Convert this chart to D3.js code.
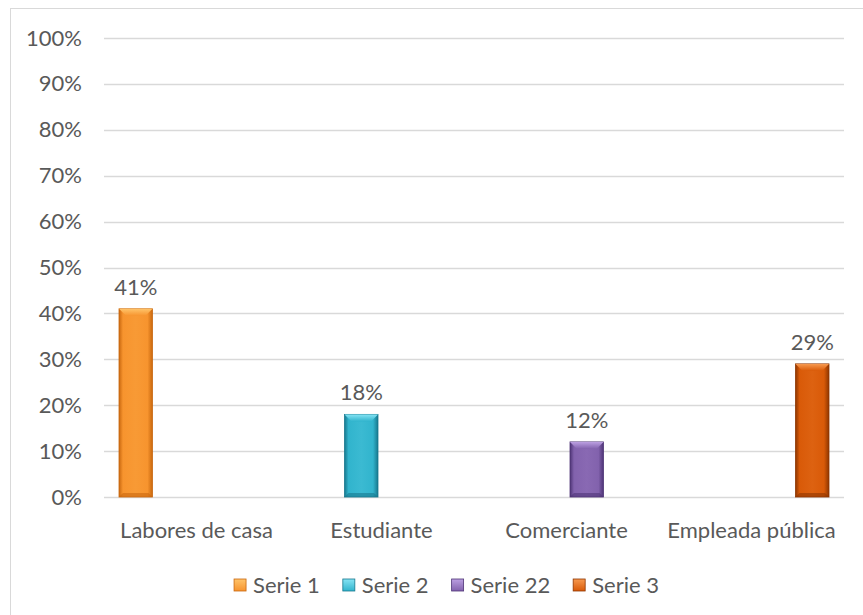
<!DOCTYPE html>
<html>
<head>
<meta charset="utf-8">
<script src="https://cdn.jsdelivr.net/npm/d3@7"></script>
<style>
  html, body { margin: 0; padding: 0; background: #fff; }
  svg { display: block; }
  text { font-family: Lato, "Open Sans", sans-serif; fill: #595959; }
</style>
</head>
<body>
<svg id="chart" width="863" height="615"></svg>
<script>
// Occupation categories along the x axis
const categories = ["Labores de casa", "Estudiante", "Comerciante", "Empleada pública"];
// Series names (legend order)
const seriesNames = ["Serie 1", "Serie 2", "Serie 22", "Serie 3"];
// Values in percent, one array per series (null = no bar)
const serie1  = [41, null, null, null];
const serie2  = [null, 18, null, null];
const serie22 = [null, null, 12, null];
const serie3  = [null, null, null, 29];
const seriesValues = [serie1, serie2, serie22, serie3];
// Y axis ticks
const yTicks = [0, 10, 20, 30, 40, 50, 60, 70, 80, 90, 100];
// Bar colours: [edge, mid, light top]
const seriesColors = [
  ["#C9680F", "#F7942E", "#FFC46A"],
  ["#17788E", "#31B4CD", "#86E4F4"],
  ["#4E3476", "#8262AD", "#BCA0E2"],
  ["#8E3600", "#D95A08", "#F79A50"]
];

const W = 863, H = 615;
const FS = 22;
const margin = { left: 104, right: 19, top: 38, bottom: 118 };
const svg = d3.select("#chart");
const defs = svg.append("defs");

// Chart frame
svg.append("rect")
  .attr("x", 10.5).attr("y", 8.5)
  .attr("width", 900).attr("height", 700)
  .attr("fill", "#fff").attr("stroke", "#d9d9d9").attr("stroke-width", 1);

const x0 = d3.scaleBand().domain(categories)
  .range([margin.left, W - margin.right]).paddingInner(0).paddingOuter(0);
const x1 = d3.scaleBand().domain(seriesNames)
  .range([15, x0.bandwidth() - 15]).paddingInner(0.173).paddingOuter(0);
const y = d3.scaleLinear().domain([0, 100])
  .range([H - margin.bottom, margin.top]);

// Gridlines
svg.append("g").selectAll("line").data(yTicks).join("line")
  .attr("x1", margin.left).attr("x2", W - margin.right)
  .attr("y1", d => Math.round(y(d)) + 0.5).attr("y2", d => Math.round(y(d)) + 0.5)
  .attr("stroke", "#d9d9d9").attr("stroke-width", 1.5);

// Y axis labels
const yAxis = d3.axisLeft(y).tickValues(yTicks).tickFormat(d => d + "%").tickSize(0).tickPadding(0);
const gy = svg.append("g").attr("transform", `translate(${margin.left - 22},0)`).call(yAxis);
gy.select(".domain").remove();
gy.selectAll("text").style("font-size", FS + "px").attr("fill", "#595959")
  .style("font-family", "Lato, sans-serif");

// X axis labels
const xAxis = d3.axisBottom(x0).tickSize(0).tickPadding(0);
const gx = svg.append("g").attr("transform", `translate(0,${H - margin.bottom + 25})`).call(xAxis);
gx.select(".domain").remove();
gx.selectAll("text").style("font-size", FS + "px").attr("fill", "#595959")
  .style("font-family", "Lato, sans-serif");

// Gradients for bevelled bars
seriesColors.forEach((c, i) => {
  const g = defs.append("linearGradient").attr("id", "bar" + i)
    .attr("x1", "0").attr("x2", "1").attr("y1", "0").attr("y2", "0");
  g.append("stop").attr("offset", "0").attr("stop-color", c[0]);
  g.append("stop").attr("offset", "0.12").attr("stop-color", c[1]);
  g.append("stop").attr("offset", "0.5").attr("stop-color", d3.interpolateRgb(c[1], c[2])(0.12));
  g.append("stop").attr("offset", "0.85").attr("stop-color", c[1]);
  g.append("stop").attr("offset", "1").attr("stop-color", c[0]);
  const t = defs.append("linearGradient").attr("id", "top" + i)
    .attr("x1", "0").attr("x2", "0").attr("y1", "0").attr("y2", "1");
  t.append("stop").attr("offset", "0").attr("stop-color", c[2]);
  t.append("stop").attr("offset", "1").attr("stop-color", c[1]);
});

// Build bar records from the series arrays
const bars = [];
seriesValues.forEach((vals, si) => {
  vals.forEach((v, ci) => {
    if (v != null) bars.push({ series: si, name: seriesNames[si], cat: categories[ci], value: v });
  });
});

const gb = svg.append("g");
bars.forEach(b => {
  const bx = x0(b.cat) + x1(b.name);
  const bw = x1.bandwidth();
  const by = y(b.value);
  const bh = y(0) - by;
  const g = gb.append("g");
  g.append("rect").attr("x", bx).attr("y", by).attr("width", bw).attr("height", bh)
    .attr("fill", `url(#bar${b.series})`)
    .attr("stroke", seriesColors[b.series][0]).attr("stroke-width", 0.8);
  // bevelled top
  const bev = 7;
  g.append("path")
    .attr("d", `M${bx},${by} L${bx + bw},${by} L${bx + bw - bev},${by + bev} L${bx + bev},${by + bev} Z`)
    .attr("fill", `url(#top${b.series})`);
  // bevelled bottom shade
  g.append("path")
    .attr("d", `M${bx},${by + bh} L${bx + bw},${by + bh} L${bx + bw - 4},${by + bh - 4} L${bx + 4},${by + bh - 4} Z`)
    .attr("fill", seriesColors[b.series][0]).attr("opacity", 0.6);
  // data label
  svg.append("text")
    .attr("x", bx + bw / 2).attr("y", by - 14)
    .attr("text-anchor", "middle")
    .style("font-size", FS + "px")
    .text(b.value + "%");
});

// Legend
const legend = svg.append("g");
const items = seriesNames.map((n, i) => {
  const g = legend.append("g");
  g.append("rect").attr("x", 0).attr("y", -6).attr("width", 12).attr("height", 12)
    .attr("fill", `url(#top${i})`).attr("stroke", seriesColors[i][0]).attr("stroke-width", 0.8);
  const t = g.append("text").attr("x", 19).attr("y", 0).attr("dy", "0.35em")
    .style("font-size", FS + "px").text(n);
  return { g, w: 19 + t.node().getComputedTextLength() };
});
const gap = 23;
const total = d3.sum(items, d => d.w) + gap * (items.length - 1);
let lx = 446.5 - total / 2;
items.forEach(it => {
  it.g.attr("transform", `translate(${lx},585)`);
  lx += it.w + gap;
});
</script>
</body>
</html>
